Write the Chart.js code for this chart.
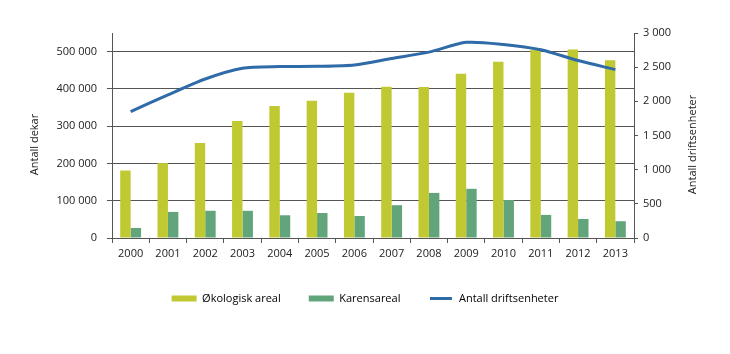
<!DOCTYPE html>
<html>
<head>
<meta charset="utf-8">
<script src="https://cdn.jsdelivr.net/npm/chart.js@4"></script>
<style>
  html, body { margin: 0; padding: 0; background: #fff; }
  #wrap { width: 730px; height: 354px; }
</style>
</head>
<body>
<div id="wrap"><canvas id="chart" width="730" height="354"></canvas></div>
<script>
// data
const years = ["2000", "2001", "2002", "2003", "2004", "2005", "2006", "2007", "2008", "2009", "2010", "2011", "2012", "2013"];
const okologisk = [181000, 201000, 255000, 314000, 354000, 368000, 390000, 406000, 405000, 441000, 473000, 505000, 506000, 477000];
const karens = [27000, 70000, 73000, 73000, 61000, 67000, 59000, 88000, 121000, 132000, 102000, 62000, 51000, 45000];
const driftsenheter = [1849, 2095, 2327, 2484, 2508, 2513, 2533, 2627, 2720, 2863, 2833, 2755, 2597, 2464];
const leftTicks = [0, 100000, 200000, 300000, 400000, 500000];
const rightTicks = [0, 500, 1000, 1500, 2000, 2500, 3000];

const font = { family: "'Open Sans', sans-serif", size: 11 };
const gridCol = "#555";
const textCol = "#222";

//thousands with a space, like 500 000
function fmt(v) {
  return v.toString().replace(/\B(?=(\d{3})+(?!\d))/g, " ");
}

//both axis titles read bottom-to-top, chart.js turns the right one the other way, so draw them here
const axisTitles = {
  id: "axisTitles",
  afterDraw(chart) {
    const c = chart.ctx;
    const mid = (chart.chartArea.top + chart.chartArea.bottom) / 2 + 9;
    const draw = (text, x) => {
      c.save();
      c.translate(x, mid);
      c.rotate(-Math.PI / 2);
      c.font = "11px 'Open Sans', sans-serif";
      c.fillStyle = textCol;
      c.textAlign = "center";
      c.textBaseline = "middle";
      c.fillText(text, 0, 0);
      c.restore();
    };
    draw("Antall dekar", chart.scales.y.left + 5);
    draw("Antall driftsenheter", chart.scales.y2.right - 7);
  },
};

Chart.defaults.font = font;
Chart.defaults.color = textCol;

const ctx = document.getElementById("chart").getContext("2d");
const chart = new Chart(ctx, {
  type: "bar",
  data: {
    labels: years,
    datasets: [
      {
        type: "line",
        label: "Antall driftsenheter",
        data: driftsenheter,
        yAxisID: "y2",
        borderColor: "#2e6ba8",
        backgroundColor: "#2e6ba8",
        borderWidth: 3,
        pointRadius: 0,
        tension: 0.25,
        order: 0,
      },
      {
        label: "Økologisk areal",
        data: okologisk,
        yAxisID: "y",
        backgroundColor: "#c0c932",
        categoryPercentage: 0.56,
        barPercentage: 1.0,
        order: 1,
      },
      {
        label: "Karensareal",
        data: karens,
        yAxisID: "y",
        backgroundColor: "#63a57b",
        categoryPercentage: 0.56,
        barPercentage: 1.0,
        order: 1,
      },
    ],
  },
  options: {
    responsive: false,
    animation: false,
    layout: { padding: { left: 30, right: 30, top: 33, bottom: 40 } },
    plugins: {
      tooltip: { enabled: false },
      legend: {
        position: "bottom",
        labels: {
          boxWidth: 25,
          boxHeight: 6,
          padding: 28,
          font: font,
          color: textCol,
          generateLabels: (chart) => {
            const order = [1, 2, 0];
            return order.map((i) => {
              const ds = chart.data.datasets[i];
              const isLine = ds.type === "line";
              return {
                text: ds.label,
                fillStyle: isLine ? ds.borderColor : ds.backgroundColor,
                strokeStyle: "#fff",
                lineWidth: isLine ? 3 : 0,
                hidden: false,
                datasetIndex: i,
              };
            });
          },
        },
      },
    },
    scales: {
      x: {
        offset: true,
        afterFit: (scale) => { scale.height = 27; },
        grid: {
          offset: true,
          drawOnChartArea: false,
          drawTicks: true,
          tickLength: 5,
          color: gridCol,
        },
        border: { color: gridCol },
        ticks: { padding: 4, font: font, color: textCol, maxRotation: 0 },
      },
      y: {
        position: "left",
        min: 0,
        max: 550000,
        afterFit: (scale) => { scale.width = 82; },
        afterBuildTicks: (scale) => { scale.ticks = leftTicks.map((v) => ({ value: v })); },
        ticks: {
          padding: 10,
          font: font,
          color: textCol,
          callback: (v) => fmt(v),
        },
        grid: { tickLength: 5, color: gridCol },
        border: { color: gridCol },
      },
      y2: {
        position: "right",
        min: 0,
        max: 3000,
        afterFit: (scale) => { scale.width = 66; },
        afterBuildTicks: (scale) => { scale.ticks = rightTicks.map((v) => ({ value: v })); },
        ticks: {
          padding: 5,
          font: font,
          color: textCol,
          callback: (v) => fmt(v),
        },
        grid: { drawOnChartArea: false, tickLength: 4, color: gridCol },
        border: { color: gridCol },
      },
    },
  },
  plugins: [axisTitles],
});
</script>
</body>
</html>
